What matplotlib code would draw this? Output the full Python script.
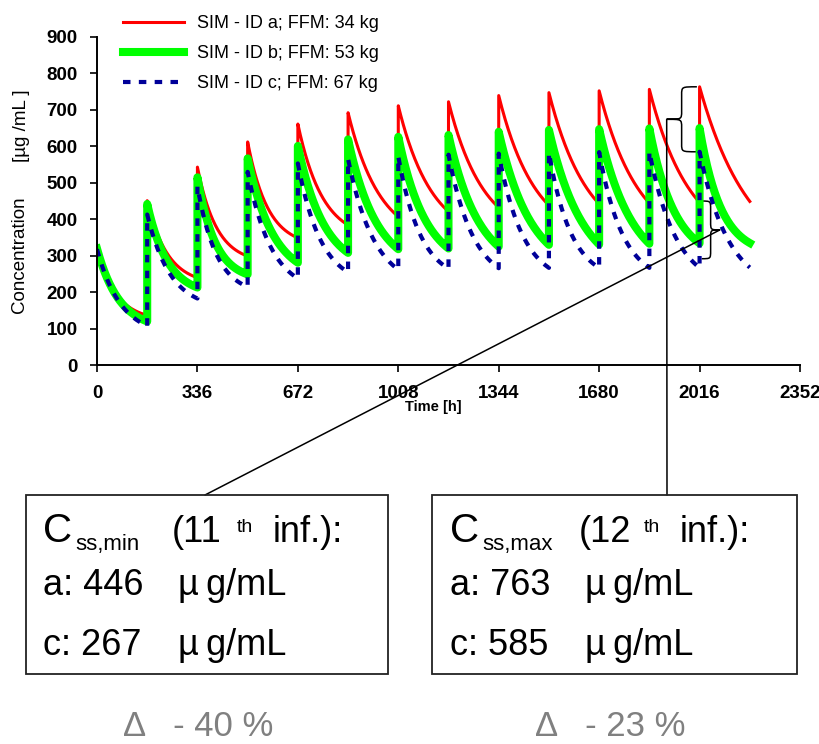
import numpy as np
import matplotlib
matplotlib.use("Agg")
import matplotlib.pyplot as plt
from matplotlib.patches import PathPatch, Rectangle, ConnectionPatch
from matplotlib.path import Path

plt.rcParams['font.family'] = ['Liberation Sans', 'DejaVu Sans']

# weekly infusions, simulated concentration [ug/mL]
tau = 168
mid_offset = 48  # h after each infusion where the mid values are read
dose_times = [0, 168, 336, 504, 672, 840, 1008, 1176, 1344, 1512, 1680, 1848, 2016]

peaks_a = [320, 451, 543, 612, 661, 692, 711, 722, 739, 747, 752, 756, 763]
mids_a = [216, 334, 405, 466, 521, 562, 581, 594, 608, 617, 622, 626, 640]
troughs_a = [137, 240, 299, 349, 384, 407, 421, 432, 438, 442, 444, 446, 449]

peaks_b = [320, 442, 515, 567, 601, 619, 626, 631, 640, 645, 647, 649, 650]
mids_b = [214, 316, 359, 425, 457, 476, 478, 489, 499, 505, 505, 492, 480]
troughs_b = [120, 213, 249, 281, 308, 318, 320, 325, 330, 331, 333, 334, 335]

peaks_c = [318, 413, 490, 530, 553, 565, 572, 577, 580, 582, 584, 585, 585]
mids_c = [210, 293, 334, 380, 398, 416, 410, 421, 421, 416, 421, 430, 435]
troughs_c = [108, 183, 215, 238, 255, 262, 265, 266, 267, 267, 267, 267, 268]

labels = ['SIM - ID a; FFM: 34 kg', 'SIM - ID b; FFM: 53 kg', 'SIM - ID c; FFM: 67 kg']
x_ticks = [0, 336, 672, 1008, 1344, 1680, 2016, 2352]
y_ticks = [0, 100, 200, 300, 400, 500, 600, 700, 800, 900]


def decay(s, k):
    return (np.exp(-k * s) - np.exp(-k)) / (1 - np.exp(-k))


def fit_k(frac, s):
    lo, hi = 1e-3, 40.0
    for _ in range(60):
        k = 0.5 * (lo + hi)
        if decay(s, k) > frac:
            lo = k
        else:
            hi = k
    return 0.5 * (lo + hi)


def profile(peaks, mids, troughs):
    ts, cs = [], []
    s = np.linspace(0, 1, 80)
    for t0, p, m, tr in zip(dose_times, peaks, mids, troughs):
        k = fit_k((m - tr) / (p - tr), mid_offset / tau)
        ts.append(t0 + s * tau)
        cs.append(tr + (p - tr) * decay(s, k))
    return np.concatenate(ts), np.concatenate(cs)


def brace(ax, x_end, x_stem, x_tip, y_top, y_bot, r):
    ym = 0.5 * (y_top + y_bot)
    verts = [(x_end, y_top), (x_stem, y_top), (x_stem, y_top), (x_stem, y_top - r),
             (x_stem, ym + r),
             (x_stem, ym), (x_stem, ym), (x_tip, ym),
             (x_stem, ym), (x_stem, ym), (x_stem, ym - r),
             (x_stem, y_bot + r),
             (x_stem, y_bot), (x_stem, y_bot), (x_end, y_bot)]
    codes = [Path.MOVETO, Path.CURVE4, Path.CURVE4, Path.CURVE4,
             Path.LINETO,
             Path.CURVE4, Path.CURVE4, Path.CURVE4,
             Path.CURVE4, Path.CURVE4, Path.CURVE4,
             Path.LINETO,
             Path.CURVE4, Path.CURVE4, Path.CURVE4]
    ax.add_patch(PathPatch(Path(verts, codes), fill=False, lw=1.1, ec='black',
                           clip_on=False))
    return x_tip, ym


W, H = 820, 744
fig = plt.figure(figsize=(W / 100, H / 100), dpi=100)
ax = fig.add_axes([97 / W, 1 - 365.3 / H, 703 / W, 328.5 / H])

t, c = profile(peaks_a, mids_a, troughs_a)
ax.plot(t, c, color='#ff0000', lw=2.2, label=labels[0])
t, c = profile(peaks_b, mids_b, troughs_b)
ax.plot(t, c, color='#00ff00', lw=5.8, label=labels[1])
t, c = profile(peaks_c, mids_c, troughs_c)
ax.plot(t, c, color='#000099', lw=3, ls=(0, (1.8, 2.0)), label=labels[2])

ax.set_xlim(0, 2352)
ax.set_ylim(0, 900)
ax.set_xticks(x_ticks)
ax.set_yticks(y_ticks)
for side in ['top', 'right']:
    ax.spines[side].set_visible(False)
for side in ['left', 'bottom']:
    ax.spines[side].set_linewidth(1.4)
ax.tick_params(direction='out', length=5, width=1.2, pad=9, labelsize=13.5)
for lab in ax.get_xticklabels() + ax.get_yticklabels():
    lab.set_fontweight('bold')

ax.legend(loc='upper left', bbox_to_anchor=(123 / W, 1 - 15 / H),
          bbox_transform=fig.transFigure, frameon=False, fontsize=13,
          handlelength=3.4, handletextpad=0.7, labelspacing=0.72,
          borderpad=0, borderaxespad=0)

fig.text(433 / W, 1 - 407 / H, 'Time [h]', fontsize=10.5, fontweight='bold',
         ha='center', va='center')
fig.text(19.5 / W, 1 - 255 / H, 'Concentration', fontsize=13.5, rotation=90,
         ha='center', va='center')
fig.text(21.5 / W, 1 - 126 / H, '[µg /mL ]', fontsize=13.5, rotation=90,
         ha='center', va='center')

# brackets around the last peak and trough
tip_max = brace(ax, 2007, 1956, 1906, 763, 585, 22)
tip_min = brace(ax, 2023, 2053, 2084, 450, 292, 22)

fig.add_artist(ConnectionPatch(xyA=tip_max, coordsA=ax.transData,
                               xyB=(667 / W, 1 - 495 / H), coordsB=fig.transFigure,
                               color='black', lw=1.1))
fig.add_artist(ConnectionPatch(xyA=tip_min, coordsA=ax.transData,
                               xyB=(205 / W, 1 - 495 / H), coordsB=fig.transFigure,
                               color='black', lw=1.1))

# summary boxes
for x0, w in [(26, 362), (432, 365)]:
    fig.add_artist(Rectangle((x0 / W, 1 - 674 / H), w / W, 179 / H,
                             transform=fig.transFigure, fill=False,
                             lw=1.3, ec='#222222'))


def ftext(x, y, s, size, **kw):
    fig.text(x / W, 1 - y / H, s, fontsize=size, ha='left', va='baseline', **kw)


unit = 'µ\u2009g/mL'
for x0, sub, nth, va_, vc_ in [(43, 'ss,min', '(11', '446', '267'),
                               (450, 'ss,max', '(12', '763', '585')]:
    ftext(x0, 542, 'C', 29)
    ftext(x0 + 32, 550, sub, 16)
    ftext(x0 + 129, 542, nth, 26)
    ftext(x0 + 194, 532, 'th', 14)
    ftext(x0 + 230, 542, 'inf.):', 26)
    ftext(x0, 595, 'a: ' + va_, 26)
    ftext(x0 + 135, 595, unit, 26)
    ftext(x0, 655, 'c: ' + vc_, 26)
    ftext(x0 + 135, 655, unit, 26)

fig.text(198 / W, 1 - 736 / H, 'Δ   - 40 %', fontsize=25, color='#808080',
         ha='center', va='baseline')
fig.text(610 / W, 1 - 736 / H, 'Δ   - 23 %', fontsize=25, color='#808080',
         ha='center', va='baseline')

fig.savefig('out.png', dpi=100)
